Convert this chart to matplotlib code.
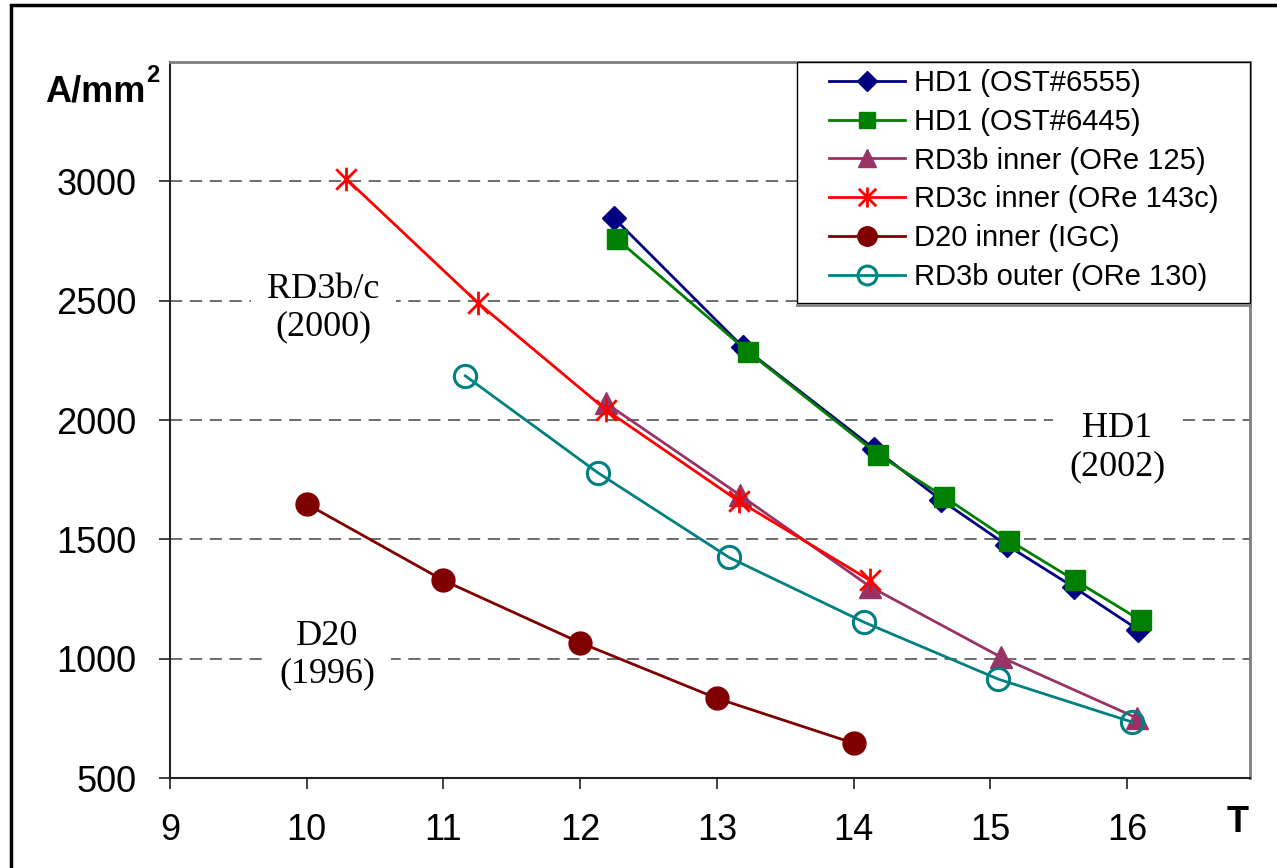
import matplotlib
matplotlib.use("Agg")
import matplotlib.pyplot as plt
from matplotlib.patches import Rectangle
from matplotlib.path import Path
from matplotlib.lines import Line2D

# ---- data ----
hd1_6555_x = [12.25, 13.19, 14.15, 14.64, 15.12, 15.61, 16.08]
hd1_6555_y = [2845, 2306, 1880, 1665, 1476, 1300, 1122]
hd1_6445_x = [12.27, 13.23, 14.18, 14.66, 15.14, 15.62, 16.10]
hd1_6445_y = [2758, 2285, 1855, 1679, 1495, 1328, 1161]
rd3b_in_x = [12.19, 13.17, 14.12, 15.08, 16.07]
rd3b_in_y = [2070, 1685, 1302, 1006, 752]
rd3c_in_x = [10.29, 11.25, 12.19, 13.16, 14.12]
rd3c_in_y = [3010, 2492, 2042, 1660, 1328]
d20_x = [10.0, 11.0, 12.0, 13.0, 14.0]
d20_y = [1648, 1328, 1067, 834, 646]
rd3b_out_x = [11.16, 12.13, 13.09, 14.08, 15.06, 16.04]
rd3b_out_y = [2185, 1779, 1424, 1152, 914, 734]

labels = ["HD1 (OST#6555)", "HD1 (OST#6445)", "RD3b inner (ORe 125)",
          "RD3c inner (ORe 143c)", "D20 inner (IGC)", "RD3b outer (ORe 130)"]
x_ticks = [9, 10, 11, 12, 13, 14, 15, 16]
y_ticks = [500, 1000, 1500, 2000, 2500, 3000]

SANS = "Liberation Sans"
SERIF = "Liberation Serif"

W, H = 1277, 868
fig = plt.figure(figsize=(W / 100, H / 100), dpi=100)
ax = fig.add_axes([170 / W, (H - 778) / H, 1080 / W, 716 / H])

# asterisk marker: X plus vertical bar
star = Path([(-1, -1), (1, 1), (-1, 1), (1, -1), (0, -1.15), (0, 1.15)],
            [Path.MOVETO, Path.LINETO, Path.MOVETO, Path.LINETO, Path.MOVETO, Path.LINETO])

lw = 2.0
ax.plot(hd1_6555_x, hd1_6555_y, color="#000080", lw=lw, marker="D", ms=12,
        mec="#000080", mfc="#000080", label=labels[0], zorder=3)
ax.plot(hd1_6445_x, hd1_6445_y, color="#008000", lw=lw, marker="s", ms=14,
        mec="#008000", mfc="#008000", label=labels[1], zorder=4)
ax.plot(rd3b_in_x, rd3b_in_y, color="#993366", lw=lw, marker="^", ms=16,
        mec="#993366", mfc="#993366", label=labels[2], zorder=3)
ax.plot(rd3c_in_x, rd3c_in_y, color="#FF0000", lw=lw, marker=star, ms=17,
        mew=2.0, mec="#FF0000", mfc="none", label=labels[3], zorder=4)
ax.plot(d20_x, d20_y, color="#800000", lw=lw, marker="o", ms=16.5,
        mec="#800000", mfc="#800000", label=labels[4], zorder=3)
ax.plot(rd3b_out_x, rd3b_out_y, color="#008080", lw=lw, marker="o", ms=16,
        mec="#008080", mfc="none", mew=2.2, label=labels[5], zorder=3)

ax.set_xlim(9, 16.9)
ax.set_ylim(500, 3500)
ax.set_xticks(x_ticks)
ax.set_yticks(y_ticks)
ax.set_xticklabels([str(t) for t in x_ticks], fontfamily=SANS, fontsize=26)
ax.set_yticklabels([str(t) for t in y_ticks], fontfamily=SANS, fontsize=26)
ax.tick_params(axis="both", direction="out", length=8, width=1.2, color="#222222")
ax.tick_params(axis="y", pad=16)
ax.tick_params(axis="x", pad=17)

for yv in y_ticks[1:]:
    ax.axhline(yv, color="#444444", lw=1.1, ls=(0, (8, 5)), zorder=1)

for s in ["left", "bottom"]:
    ax.spines[s].set_color("#222222")
    ax.spines[s].set_linewidth(1.5)
for s in ["top", "right"]:
    ax.spines[s].set_color("#808080")
    ax.spines[s].set_linewidth(2.0)

box = dict(boxstyle="square,pad=0.45", facecolor="white", edgecolor="none")
ax.text(10.12, 2469, "RD3b/c\n(2000)", fontfamily=SERIF, fontsize=26,
        ha="center", va="center", linespacing=1.2, bbox=box, zorder=2)
ax.text(15.93, 1884, "HD1\n(2002)", fontfamily=SERIF, fontsize=26,
        ha="center", va="center", linespacing=1.2, bbox=box, zorder=2)
ax.text(10.15, 1014, "D20\n(1996)", fontfamily=SERIF, fontsize=26,
        ha="center", va="center", linespacing=1.2, bbox=box, zorder=2)

# legend box (drawn manually to match padding)
lx0 = (797 - 170) / 1080
ly0 = (778 - 303) / 716
ax.add_patch(Rectangle((lx0, ly0), 1 - lx0, 1 - ly0, transform=ax.transAxes,
                       facecolor="white", edgecolor="black", lw=1.0, zorder=8,
                       clip_on=False))
ax.add_line(Line2D([lx0, 1.0], [ly0 - 1.5 / 716, ly0 - 1.5 / 716], transform=ax.transAxes,
                   color="#808080", lw=2.0, zorder=8, clip_on=False))

leg = ax.legend(loc="upper left", bbox_to_anchor=((829 - 170) / 1080, (778 - 69) / 716),
                borderaxespad=0, borderpad=0, frameon=False,
                prop={"family": SANS, "size": 21},
                handlelength=2.6, handletextpad=0.3, labelspacing=0.37,
                markerscale=0.85)
leg.set_zorder(10)

fig.text(45 / W, 1 - 92 / H, "A/mm", fontfamily=SANS, fontweight="bold",
         fontsize=26, ha="left", va="center")
fig.text(146 / W, 1 - 75 / H, "2", fontfamily=SANS, fontweight="bold",
         fontsize=17, ha="left", va="center")
fig.text(1238 / W, 1 - 822 / H, "T", fontfamily=SANS, fontweight="bold",
         fontsize=26, ha="center", va="center")

fig.patches.append(Rectangle((11 / W, -0.1), 1.2, 1.1 - 5 / H,
                             transform=fig.transFigure, fill=False,
                             edgecolor="black", lw=2.5, clip_on=False))

fig.savefig("out.png", dpi=100)
